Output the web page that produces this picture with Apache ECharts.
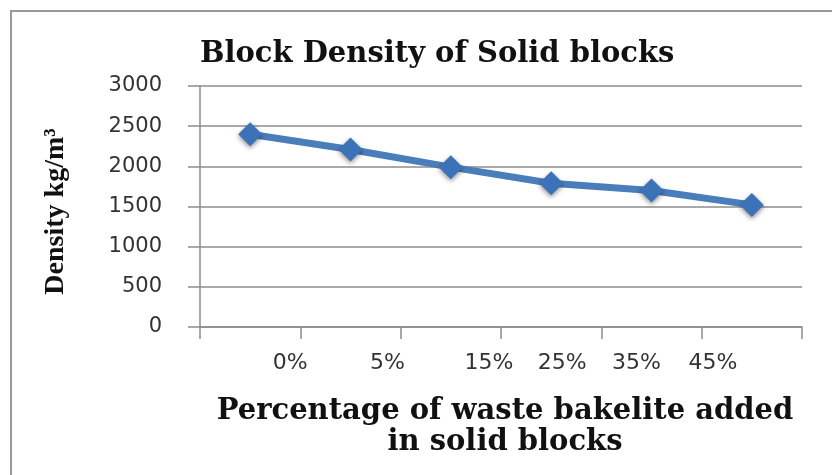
<!DOCTYPE html>
<html>
<head>
<meta charset="utf-8">
<script src="https://cdn.jsdelivr.net/npm/echarts@6/dist/echarts.min.js"></script>
<style>
  html, body { margin: 0; padding: 0; background: #fff; }
  #chart { width: 832px; height: 475px; }
</style>
</head>
<body>
<div id="chart"></div>
<script>
var categories = ["0%", "5%", "15%", "25%", "35%", "45%"];
var densityValues = [2400, 2210, 1990, 1790, 1700, 1520];
var yTicks = [0, 500, 1000, 1500, 2000, 2500, 3000];

var myChart = echarts.init(document.getElementById("chart"));

// labels in the original sit off their category centres
var labelRich = {
	o0: { padding: [0, 0, 0, 80] },
	o1: { padding: [0, 0, 0, 74] },
	o2: { padding: [0, 0, 0, 76] },
	o3: { padding: [0, 0, 0, 22] },
	o4: { padding: [0, 30, 0, 0] },
	o5: { padding: [0, 78, 0, 0] }
};

var option = {
	animation: false,
	backgroundColor: "#fff",
	graphic: [{
		type: "rect",
		shape: { x: 11, y: 11, width: 840, height: 480 },
		style: { fill: "none", stroke: "#999", lineWidth: 2 }
	}],
	title: {
		text: "Block Density of Solid blocks",
		left: 195,
		top: 35,
		textStyle: {
			fontFamily: "DejaVu Serif",
			fontWeight: "bold",
			fontSize: 29,
			color: "#111"
		}
	},
	grid: {
		left: 200,
		right: 30,
		top: 86,
		bottom: 148
	},
	xAxis: {
		type: "category",
		data: categories,
		boundaryGap: true,
		name: "Percentage of waste bakelite added\nin solid blocks",
		nameLocation: "middle",
		nameGap: 69,
		nameTextStyle: {
			fontFamily: "DejaVu Serif",
			fontWeight: "bold",
			fontSize: 29,
			lineHeight: 31,
			color: "#111",
			padding: [0, 0, 0, 8]
		},
		axisLine: { lineStyle: { color: "#8c8c8c", width: 1.5 } },
		axisTick: { show: true, length: 12, alignWithLabel: false, lineStyle: { color: "#8c8c8c", width: 1.5 } },
		axisLabel: {
			interval: 0,
			margin: 25,
			fontFamily: "DejaVu Sans",
			fontSize: 22,
			color: "#333",
			formatter: function (v, i) { return "{o" + i + "|" + v + "}"; },
			rich: labelRich
		}
	},
	yAxis: {
		type: "value",
		min: yTicks[0],
		max: yTicks[yTicks.length - 1],
		interval: yTicks[1] - yTicks[0],
		name: "Density kg/m³",
		nameLocation: "middle",
		nameGap: 130,
		nameRotate: 90,
		nameTextStyle: {
			fontFamily: "Liberation Serif",
			fontWeight: "bold",
			fontSize: 28,
			color: "#111",
			padding: [0, 10, 0, 0]
		},
		axisLine: { show: true, lineStyle: { color: "#8c8c8c", width: 1.5 } },
		axisTick: { show: true, inside: false, length: 12, lineStyle: { color: "#8c8c8c", width: 1.5 } },
		axisLabel: {
			margin: 38,
			fontFamily: "DejaVu Sans",
			fontSize: 21,
			color: "#333",
			formatter: function (v) { return String(v); }
		},
		splitLine: { lineStyle: { color: "#8c8c8c", width: 1.5 } }
	},
	series: [{
		type: "line",
		data: densityValues,
		symbol: "diamond",
		symbolSize: 24,
		lineStyle: { color: "#4a7ebb", width: 7 },
		itemStyle: {
			color: "#3c72b8",
			shadowBlur: 5,
			shadowColor: "rgba(0,0,0,0.45)",
			shadowOffsetY: 2
		}
	}]
};

myChart.setOption(option);
</script>
</body>
</html>
